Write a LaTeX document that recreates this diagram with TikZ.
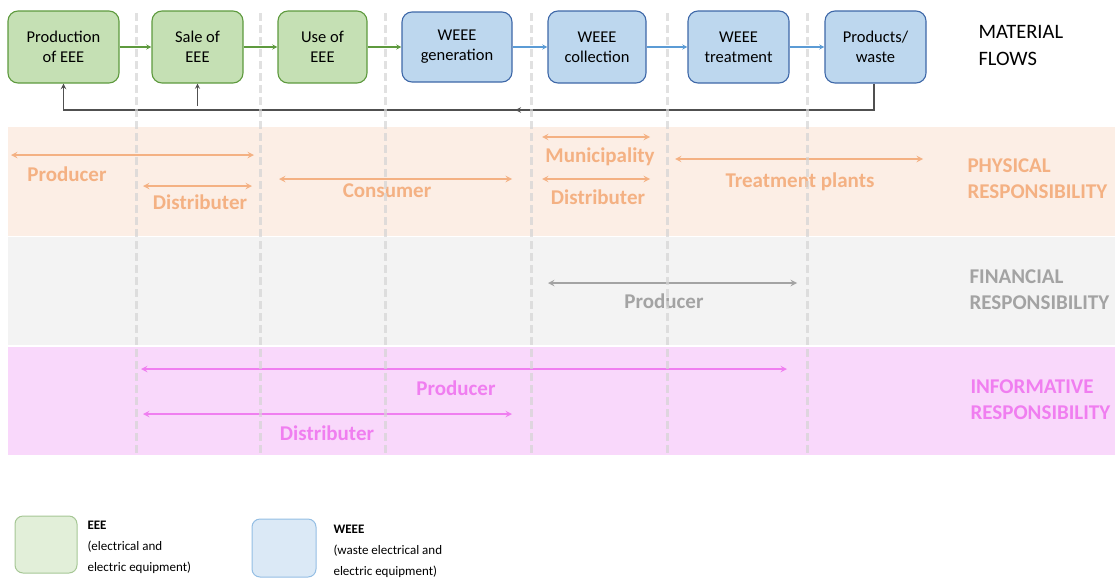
\documentclass[tikz,border=0pt]{standalone}
\usepackage{fontspec}
\setmainfont{Carlito}
\usetikzlibrary{arrows, decorations.markings, positioning}
\tikzset{>=stealth}
\definecolor{eeeFill}{HTML}{C5E0B4}
\definecolor{eeeLine}{HTML}{5E9A3E}
\definecolor{weeeFill}{HTML}{BDD7EE}
\definecolor{weeeLine}{HTML}{3E68A8}
\definecolor{weeeArrow}{HTML}{5B9BD5}
\definecolor{physBand}{HTML}{FCEEE5}
\definecolor{physText}{HTML}{F4B183}
\definecolor{finBand}{HTML}{F3F3F3}
\definecolor{finText}{HTML}{A3A3A3}
\definecolor{infoBand}{HTML}{F9D8FB}
\definecolor{infoText}{HTML}{F07EF0}
\definecolor{flowLine}{HTML}{505050}

\begin{document}
\begin{tikzpicture}[x=1pt, y=-1pt,
  eee/.style={draw=eeeLine, fill=eeeFill, rounded corners=10pt, line width=1.1pt,
    minimum height=72pt, align=center, font=\fontsize{16.5}{20}\selectfont},
  weee/.style={eee, draw=weeeLine, fill=weeeFill},
  lbl/.style={font=\fontsize{21}{26}\selectfont\bfseries},
  head/.style={anchor=west, align=left, font=\fontsize{21}{26}\selectfont\bfseries},
  rangearrow/.style={<->, line width=1.8pt}]
\useasboundingbox (0,0) rectangle (1115,581);

\fill[physBand] (8,127) rectangle (1115,236);
\fill[finBand] (8,237) rectangle (1115,345);
\fill[infoBand] (8,347) rectangle (1115,455);

\node[eee, minimum width=111pt] (A) at (63.5,47) {Production\\of EEE};
\node[eee, minimum width=91pt] (A1) at (197.5,47) {Sale of\\EEE};
\node[eee, minimum width=89pt] (A2) at (322.5,47) {Use of\\EEE};
\node[weee, minimum width=110pt, minimum height=70pt] (A3) at (457,47) {WEEE\\generation};
\node[weee, minimum width=98pt] (A4) at (597,47) {WEEE\\collection};
\node[weee, minimum width=101pt] (A5) at (738.5,47) {WEEE\\treatment};
\node[weee, minimum width=101pt] (A6) at (875.5,47) {Products/\\waste};
\node[anchor=west, align=left, font=\fontsize{20.5}{27}\selectfont] (M) at (975,45) {MATERIAL\\FLOWS};

\draw[->, line width=1.3pt, color=eeeLine] (A) -- (A1);
\draw[->, line width=1.3pt, color=eeeLine] (A1) -- (A2);
\draw[->, line width=1.3pt, color=eeeLine] (A2) -- (A3);
\draw[->, line width=1.3pt, color=weeeArrow] (A3) -- (A4);
\draw[->, line width=1.3pt, color=weeeArrow] (A4) -- (A5);
\draw[->, line width=1.3pt, color=weeeArrow] (A5) -- (A6);

\coordinate (R) at (874,110);
\coordinate (S) at (197.5,106);
\draw[->, line width=1.5pt, color=flowLine,
  postaction={decorate, decoration={markings, mark=at position 0.446 with {\arrow{stealth}}}}]
  (A6.south -| R) -- (R) -| (A.south);
\draw[->, line width=1.3pt, color=flowLine] (S) -- (A1.south);

% physical responsibility
\draw[rangearrow, physText] (11,155) -- (254,155);
\draw[rangearrow, physText] (143,186) -- (252,186);
\draw[rangearrow, physText] (279,179) -- (512,179);
\draw[rangearrow, physText] (542,137) -- (650,137);
\draw[rangearrow, physText] (542,179) -- (650,179);
\draw[rangearrow, physText] (675,159) -- (923,159);
\node[lbl, physText] (B) at (67,174) {Producer};
\node[lbl, physText] (B1) at (200,202) {Distributer};
\node[lbl, physText] (B2) at (387,191) {Consumer};
\node[lbl, physText] (B3) at (600,157) {Municipality};
\node[lbl, physText] (B4) at (598,197) {Distributer};
\node[lbl, physText] (B5) at (800,182) {Treatment plants};
\node[head, physText] (B6) at (964,179) {PHYSICAL\\RESPONSIBILITY};

% financial responsibility
\draw[rangearrow, finText] (548,283) -- (797,283);
\node[lbl, finText] (C) at (664,301) {Producer};
\node[head, finText] (C1) at (966,290) {FINANCIAL\\RESPONSIBILITY};

% informative responsibility
\draw[rangearrow, infoText] (141,369) -- (787,369);
\draw[rangearrow, infoText] (143,414) -- (512,414);
\node[lbl, infoText] (D) at (456,388) {Producer};
\node[lbl, infoText] (D1) at (327,433) {Distributer};
\node[head, infoText] (D2) at (967,400) {INFORMATIVE\\RESPONSIBILITY};

\foreach \x in {136,260,385,531,667,807}
  \draw[color=black!17, opacity=0.7, line width=3pt, dash pattern=on 8pt off 4pt] (\x,13) -- (\x,455);

% legend
\draw[draw=eeeLine!55, fill=eeeFill!50, rounded corners=8pt, line width=1pt] (15,516) rectangle (77,573);
\node[anchor=west, align=left, font=\fontsize{13}{21}\selectfont] (E) at (84,547) {\textbf{EEE}\\(electrical and\\electric equipment)};
\draw[draw=weeeArrow!65, fill=weeeFill!55, rounded corners=8pt, line width=1pt] (252,519) rectangle (316,577);
\node[anchor=west, align=left, font=\fontsize{13}{21}\selectfont] (W) at (330,551) {\textbf{WEEE}\\(waste electrical and\\electric equipment)};
\end{tikzpicture}
\end{document}
